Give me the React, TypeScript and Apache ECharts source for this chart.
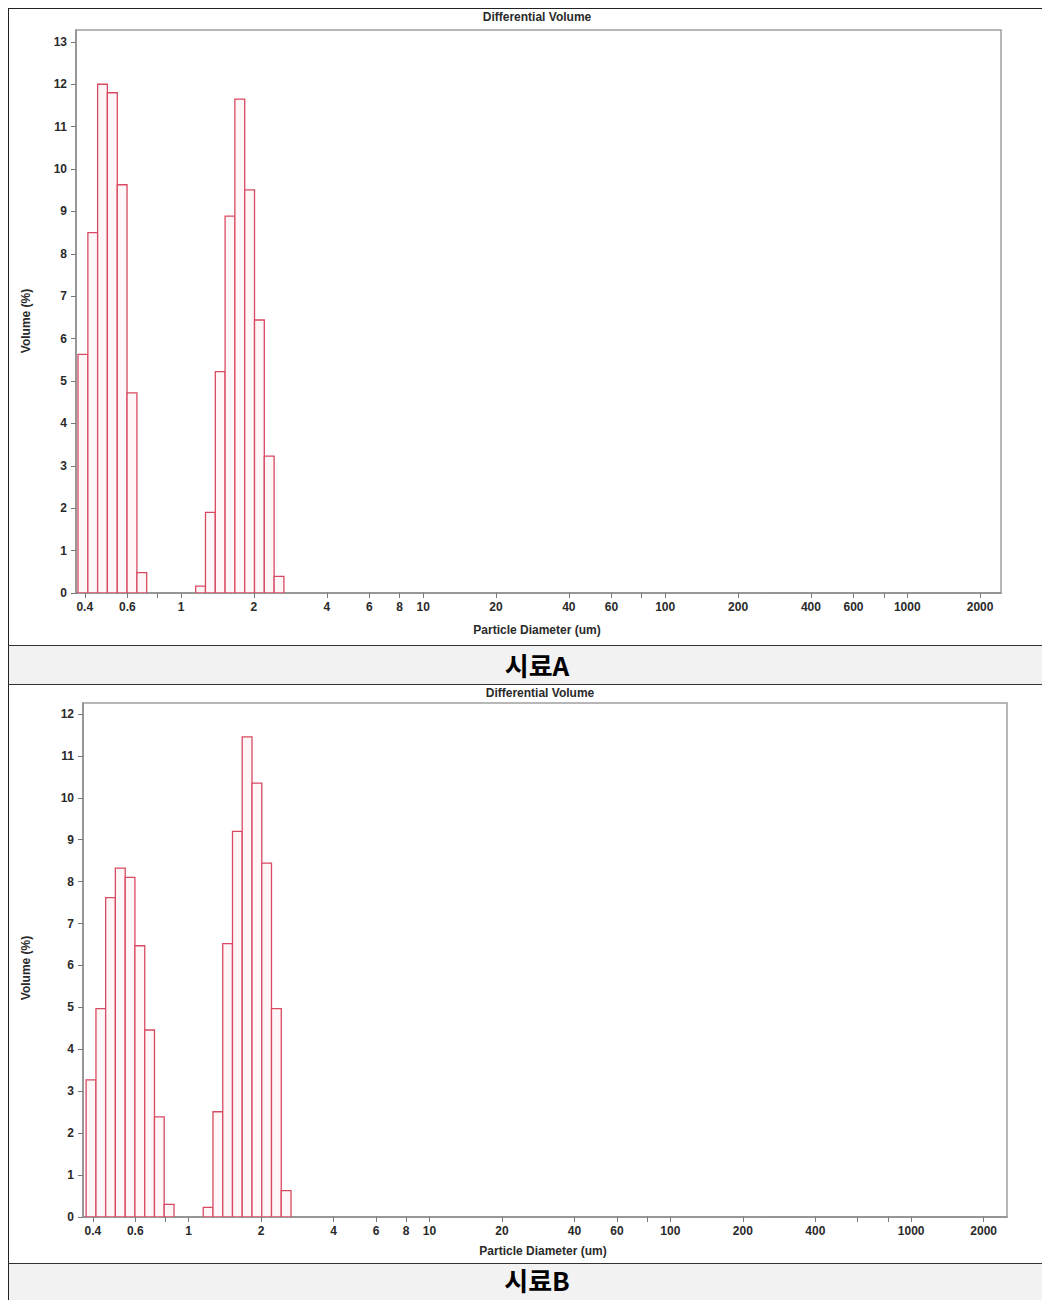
import React, { useEffect, useRef } from "react";
import * as echarts from "echarts";

// Particle size channel edges (um)
const binEdges = [
  0.375, 0.412, 0.452, 0.496, 0.545, 0.598, 0.657, 0.721, 0.791, 0.869, 0.953,
  1.047, 1.149, 1.261, 1.385, 1.52, 1.668, 1.832, 2.011, 2.207, 2.423, 2.66,
];
// Volume (%) per channel
const volumeA = [
  5.63, 8.5, 12.0, 11.8, 9.63, 4.72, 0.48, 0, 0, 0, 0, 0, 0.16, 1.9, 5.22, 8.89,
  11.65, 9.51, 6.44, 3.23, 0.39,
];
const volumeB = [
  3.27, 4.97, 7.62, 8.32, 8.1, 6.47, 4.46, 2.39, 0.3, 0, 0, 0, 0.23, 2.51, 6.52,
  9.2, 11.45, 10.35, 8.44, 4.97, 0.63,
];

const xTickValues = [
  0.4, 0.6, 0.8, 1, 2, 4, 6, 8, 10, 20, 40, 60, 80, 100, 200, 400, 600, 800,
  1000, 2000,
];
const xLabelsA = [
  0.4, 0.6, 1, 2, 4, 6, 8, 10, 20, 40, 60, 100, 200, 400, 600, 1000, 2000,
];
const xLabelsB = [
  0.4, 0.6, 1, 2, 4, 6, 8, 10, 20, 40, 60, 100, 200, 400, 1000, 2000,
];
const yTicksA = [0, 1, 2, 3, 4, 5, 6, 7, 8, 9, 10, 11, 12, 13];
const yTicksB = [0, 1, 2, 3, 4, 5, 6, 7, 8, 9, 10, 11, 12];

const titleText = "Differential Volume";
const xAxisName = "Particle Diameter (um)";
const yAxisName = "Volume (%)";
const captionA = "시료A";
const captionB = "시료B";

const FONT = "'Liberation Sans', Arial, sans-serif";
const TXT = "#2a2a2a";

type Cfg = {
  volumes: number[];
  xLabels: number[];
  yTicks: number[];
  yMax: number;
  xMin: number;
  xMax: number;
  grid: { left: number; top: number; right: number; bottom: number };
  titlePos: [number, number];
  xNamePos: [number, number];
  yNamePos: [number, number];
};

function fmt(logv: number): string {
  let best = xTickValues[0];
  let bd = Infinity;
  for (const t of xTickValues) {
    const d = Math.abs(Math.log10(t) - logv);
    if (d < bd) {
      bd = d;
      best = t;
    }
  }
  return String(best);
}

function buildOption(c: Cfg): any {
  const data: number[][] = [];
  c.volumes.forEach((v, i) => {
    if (v > 0) data.push([Math.log10(binEdges[i]), Math.log10(binEdges[i + 1]), v]);
  });
  const textStyle = { fontFamily: FONT, fontWeight: "bold", fontSize: 12, fill: TXT };
  return {
    animation: false,
    grid: {
      ...c.grid,
      show: true,
      borderColor: "#a0a0a0",
      borderWidth: 1.5,
      backgroundColor: "transparent",
    },
    xAxis: {
      type: "value",
      min: Math.log10(c.xMin),
      max: Math.log10(c.xMax),
      axisLine: { show: true, onZero: false, lineStyle: { color: "#8c8c8c", width: 1.5 } },
      axisTick: {
        show: true,
        length: 5,
        lineStyle: { color: "#777", width: 1 },
        customValues: xTickValues.map((v) => Math.log10(v)),
      },
      axisLabel: {
        show: true,
        margin: 8,
        color: TXT,
        fontFamily: FONT,
        fontWeight: "bold",
        fontSize: 12,
        customValues: c.xLabels.map((v) => Math.log10(v)),
        formatter: (v: number) => fmt(v),
      },
      splitLine: { show: false },
    },
    yAxis: {
      type: "value",
      min: 0,
      max: c.yMax,
      axisLine: { show: true, onZero: false, lineStyle: { color: "#8c8c8c", width: 1.5 } },
      axisTick: {
        show: true,
        length: 5,
        lineStyle: { color: "#777", width: 1 },
        customValues: c.yTicks,
      },
      axisLabel: {
        show: true,
        margin: 9,
        color: TXT,
        fontFamily: FONT,
        fontWeight: "bold",
        fontSize: 12,
        customValues: c.yTicks,
        formatter: (v: number) => (Math.abs(v - Math.round(v)) < 1e-6 ? String(Math.round(v)) : ""),
      },
      splitLine: { show: false },
    },
    series: [
      {
        type: "custom",
        clip: true,
        encode: { x: [0, 1], y: 2 },
        data,
        renderItem: (_params: any, api: any) => {
          const lo = api.value(0);
          const hi = api.value(1);
          const v = api.value(2);
          const p0 = api.coord([lo, v]);
          const p1 = api.coord([hi, 0]);
          return {
            type: "rect",
            shape: { x: p0[0], y: p0[1], width: p1[0] - p0[0], height: p1[1] - p0[1] },
            style: { fill: "#fff6f7", stroke: "#d84a62", lineWidth: 1.3 },
          };
        },
      },
    ],
    graphic: [
      {
        type: "text",
        x: c.titlePos[0],
        y: c.titlePos[1],
        style: { ...textStyle, text: titleText, textAlign: "center", textVerticalAlign: "middle" },
      },
      {
        type: "text",
        x: c.xNamePos[0],
        y: c.xNamePos[1],
        style: { ...textStyle, text: xAxisName, textAlign: "center", textVerticalAlign: "middle" },
      },
      {
        type: "text",
        x: c.yNamePos[0],
        y: c.yNamePos[1],
        rotation: Math.PI / 2,
        style: { ...textStyle, text: yAxisName, textAlign: "center", textVerticalAlign: "middle" },
      },
    ],
  };
}

const cfgA: Cfg = {
  volumes: volumeA,
  xLabels: xLabelsA,
  yTicks: yTicksA,
  yMax: 13.28,
  xMin: 0.368,
  xMax: 2440,
  grid: { left: 67, top: 21, right: 49, bottom: 52 },
  titlePos: [528, 8],
  xNamePos: [528, 621],
  yNamePos: [17, 312],
};

const cfgB: Cfg = {
  volumes: volumeB,
  xLabels: xLabelsB,
  yTicks: yTicksB,
  yMax: 12.26,
  xMin: 0.364,
  xMax: 2500,
  grid: { left: 74, top: 17, right: 43, bottom: 46 },
  titlePos: [531, 7],
  xNamePos: [534, 565],
  yNamePos: [17, 282],
};

function Chart({ cfg, width, height }: { cfg: Cfg; width: number; height: number }) {
  const ref = useRef<HTMLDivElement>(null);
  useEffect(() => {
    if (!ref.current) return;
    const chart = echarts.init(ref.current, undefined, { renderer: "svg" });
    chart.setOption(buildOption(cfg));
    return () => chart.dispose();
  }, [cfg]);
  return <div ref={ref} style={{ width, height }} />;
}

const lineStyle = (top: number): React.CSSProperties => ({
  position: "absolute",
  left: 0,
  top,
  width: 1100,
  height: 1,
  background: "#333",
});

const bgStyle = (top: number, height: number): React.CSSProperties => ({
  position: "absolute",
  left: 1,
  top,
  width: 1100,
  height,
  background: "#f2f2f2",
});

const captionStyle = (top: number, height: number): React.CSSProperties => ({
  position: "absolute",
  left: 1,
  top,
  width: 1056,
  height,
  textAlign: "center",
  lineHeight: height + "px",
  fontFamily: "'Noto Sans CJK KR', sans-serif",
  fontWeight: "bold",
  fontSize: 26,
  color: "#000",
});

export default function App() {
  return (
    <div style={{ position: "relative", width: 1042, height: 1292, overflow: "hidden", background: "#fff" }}>
      <div
        style={{
          position: "absolute",
          left: 0,
          top: 0,
          width: 1100,
          height: 1400,
          borderLeft: "1px solid #222",
          borderTop: "1px solid #222",
          boxSizing: "border-box",
        }}
      />
      <div style={{ position: "absolute", left: 1, top: 1 }}>
        <Chart cfg={cfgA} width={1041} height={636} />
      </div>
      <div style={lineStyle(637)} />
      <div style={bgStyle(638, 38)} />
      <div style={captionStyle(638, 38)}>{captionA}</div>
      <div style={lineStyle(676)} />
      <div style={{ position: "absolute", left: 1, top: 678 }}>
        <Chart cfg={cfgB} width={1041} height={577} />
      </div>
      <div style={lineStyle(1255)} />
      <div style={bgStyle(1256, 40)} />
      <div style={captionStyle(1258, 28)}>{captionB}</div>
    </div>
  );
}
